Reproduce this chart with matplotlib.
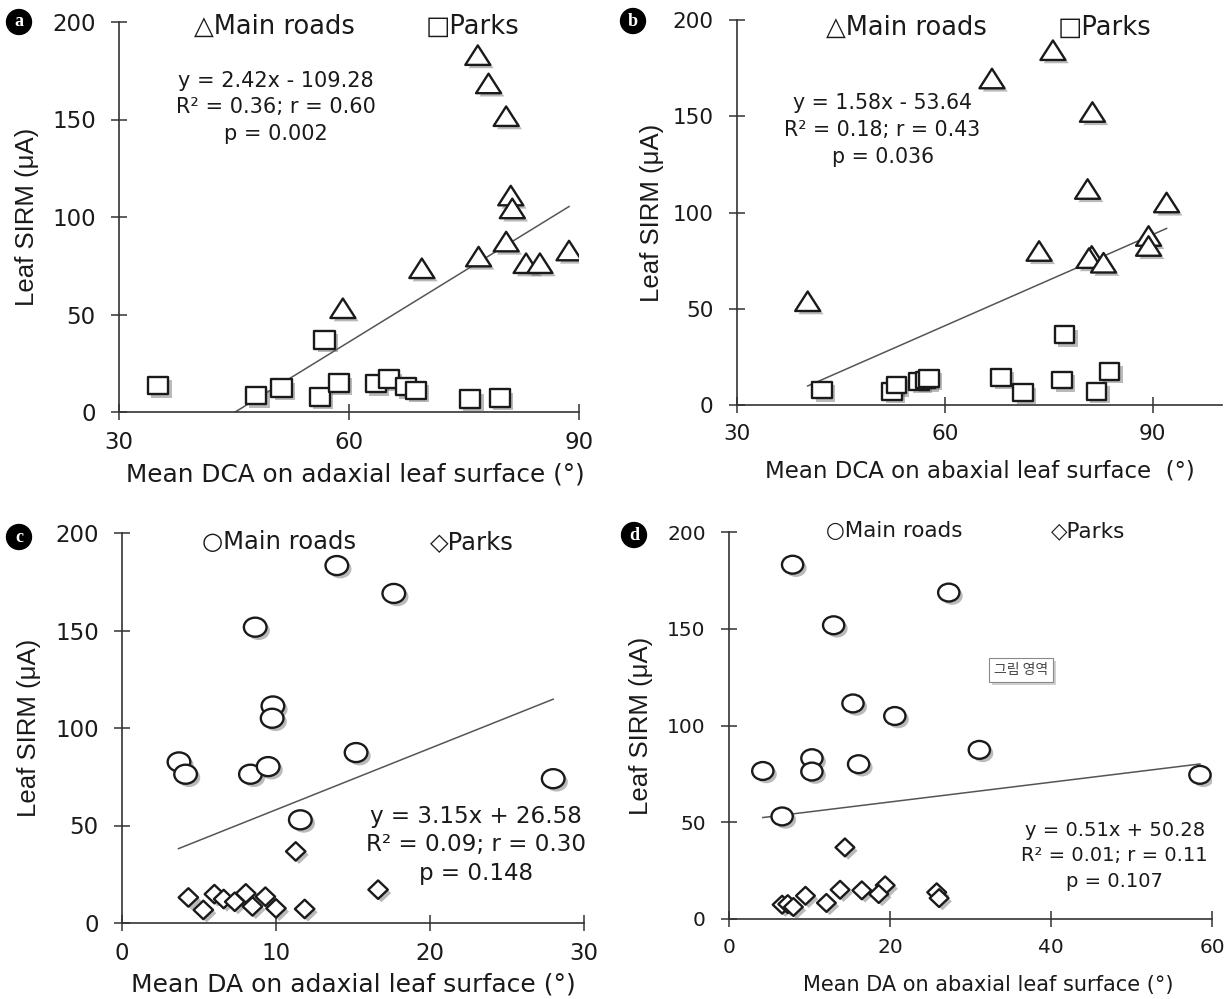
import matplotlib
matplotlib.use("Agg")
import matplotlib.pyplot as plt
import matplotlib.patheffects as pe
from matplotlib.path import Path
from matplotlib.transforms import Affine2D
import numpy as np

plt.rcParams['font.family'] = ['DejaVu Sans']

# ---------------- data ----------------
# panel a: mean DCA adaxial
a_road_x = [76.8, 78.2, 80.5, 81.1, 81.3, 80.5, 76.9, 83.1, 84.9, 88.7, 69.5, 59.2]
a_road_y = [183, 168.5, 151.7, 111, 104.4, 87.4, 79.7, 76.3, 76.3, 82.8, 73.7, 53.2]
a_park_x = [35.1, 47.9, 51.2, 56.8, 56.2, 58.7, 63.5, 65.2, 67.4, 68.7, 75.8, 79.7]
a_park_y = [13.5, 8.4, 12.3, 37, 7.7, 14.8, 14.5, 16.9, 13.1, 11.1, 6.7, 7.2]
# panel b: mean DCA abaxial
b_road_x = [40.2, 66.8, 75.6, 81.3, 80.6, 92.0, 89.4, 89.4, 73.6, 81.2, 80.8, 82.9]
b_road_y = [53.9, 169.6, 184.3, 152.2, 112.2, 105.2, 87.8, 82.6, 80, 77.4, 76.3, 73.9]
b_park_x = [42.3, 52.4, 53.0, 56.3, 57.2, 57.7, 68.1, 71.3, 77.3, 76.9, 81.9, 83.8]
b_park_y = [7.8, 7, 10.4, 12.2, 13, 13.9, 14.4, 6.4, 36.5, 13, 7, 17.4]
# panel c: mean DA adaxial
c_road_x = [13.95, 17.65, 8.65, 9.8, 9.75, 15.2, 3.7, 4.13, 8.34, 9.49, 28.0, 11.58]
c_road_y = [183.3, 169, 151.7, 111.3, 105, 87.4, 82.6, 76.3, 76.3, 80.2, 74, 52.9]
c_park_x = [11.28, 16.63, 4.31, 5.28, 6.0, 6.6, 7.32, 8.04, 8.47, 9.31, 10.0, 11.86]
c_park_y = [36.7, 17.1, 13.1, 6.7, 14.8, 12.3, 10.9, 15.2, 8.5, 13.5, 7.5, 7.2]
# panel d: mean DA abaxial
d_road_x = [7.9, 27.3, 13.0, 15.4, 20.6, 31.1, 10.3, 10.3, 4.2, 16.1, 58.5, 6.6]
d_road_y = [183.1, 168.7, 151.8, 111.4, 104.9, 87.4, 83.1, 76.2, 76.5, 80, 74.5, 53]
d_park_x = [14.4, 19.4, 16.5, 13.8, 9.5, 12.1, 18.6, 25.8, 26.1, 6.6, 7.3, 8.0]
d_park_y = [37, 17.4, 14.8, 15.1, 12, 8.3, 12.9, 13.8, 10.8, 7.4, 7.7, 6.2]

# regression coefficients (slope, intercept) and x-range of the trend line
fits = {
    'a': (2.42, -109.28, 35.1, 88.7),
    'b': (1.58, -53.64, 40.2, 92.0),
    'c': (3.15, 26.58, 3.67, 28.0),
    'd': (0.51, 50.28, 4.2, 58.5),
}
eq_texts = {
    'a': "y = 2.42x - 109.28\nR² = 0.36; r = 0.60\np = 0.002",
    'b': "y = 1.58x - 53.64\nR² = 0.18; r = 0.43\np = 0.036",
    'c': "y = 3.15x + 26.58\nR² = 0.09; r = 0.30\np = 0.148",
    'd': "y = 0.51x + 50.28\nR² = 0.01; r = 0.11\np = 0.107",
}
xlabels = {
    'a': "Mean DCA on adaxial leaf surface (°)",
    'b': "Mean DCA on abaxial leaf surface  (°)",
    'c': "Mean DA on adaxial leaf surface (°)",
    'd': "Mean DA on abaxial leaf surface (°)",
}
xlims = {'a': (30, 90), 'b': (30, 100), 'c': (0, 30), 'd': (0, 60)}
xticks = {'a': [30, 60, 90], 'b': [30, 60, 90], 'c': [0, 10, 20, 30], 'd': [0, 20, 40, 60]}
yticks = [0, 50, 100, 150, 200]
ylabel = "Leaf SIRM (μA)"
legend_road = {'a': "△Main roads", 'b': "△Main roads", 'c': "○Main roads", 'd': "○Main roads"}
legend_park = {'a': "□Parks", 'b': "□Parks", 'c': "◇Parks", 'd': "◇Parks"}

# ---------------- layout / style ----------------
W, H = 1231, 999
fig = plt.figure(figsize=(W / 100, H / 100), dpi=100)

def frac(x0, x1, ytop, ybot):
    return [x0 / W, 1 - ybot / H, (x1 - x0) / W, (ybot - ytop) / H]

axes = {
    'a': fig.add_axes(frac(119, 579, 22, 412)),
    'b': fig.add_axes(frac(737, 1222, 20, 405)),
    'c': fig.add_axes(frac(122, 584, 533, 923)),
    'd': fig.add_axes(frac(729, 1212, 532, 919)),
}

# slightly widened marker shapes (the source image is stretched horizontally)
def closed(verts):
    verts = list(verts) + [verts[0]]
    codes = [Path.MOVETO] + [Path.LINETO] * (len(verts) - 2) + [Path.CLOSEPOLY]
    return Path(verts, codes)

TRI = closed([(0, 0.78), (-1, -0.78), (1, -0.78)])
SQR = closed([(-1, -0.87), (1, -0.87), (1, 0.87), (-1, 0.87)])
DIA = closed([(0, 0.95), (-1, 0), (0, -0.95), (1, 0)])
ELL = Path.unit_circle().transformed(Affine2D().scale(1.0, 0.84))

data = {
    'a': (a_road_x, a_road_y, a_park_x, a_park_y, TRI, SQR),
    'b': (b_road_x, b_road_y, b_park_x, b_park_y, TRI, SQR),
    'c': (c_road_x, c_road_y, c_park_x, c_park_y, ELL, DIA),
    'd': (d_road_x, d_road_y, d_park_x, d_park_y, ELL, DIA),
}
msizes = {'a': (18, 14.5), 'b': (18, 14), 'c': (16.3, 14), 'd': (15.3, 13.5)}

leg_pos = {
    'a': ((39.8, 197.4), (70.0, 197.4)),
    'b': ((42.8, 195.8), (76.3, 195.8)),
    'c': ((5.2, 195.4), (20.0, 195.4)),
    'd': ((12.0, 200.5), (40.0, 200.5)),
}
leg_fs = {'a': 18.5, 'b': 18.5, 'c': 17.5, 'd': 15.5}
eq_pos = {'a': (50.5, 156.2), 'b': (51.0, 142.9), 'c': (23.0, 40.0), 'd': (47.9, 32.6)}
eq_fs = {'a': 15, 'b': 14.8, 'c': 16.6, 'd': 14}
eq_ls = {'a': 1.4, 'b': 1.45, 'c': 1.3, 'd': 1.45}
tick_fs = {'a': 16.5, 'b': 15.5, 'c': 16.5, 'd': 14.5}
xl_fs = {'a': 17.8, 'b': 16.5, 'c': 18, 'd': 15}
xl_pad = {'a': 6, 'b': 11, 'c': 5, 'd': 13}
xl_x = {'a': 0.513, 'b': 0.5, 'c': 0.5, 'd': 0.536}
yl_pad = {'a': 9, 'b': 6, 'c': 10, 'd': 10}

shadow = [pe.SimplePatchShadow(offset=(2.4, -2.4), shadow_rgbFace='#666666', alpha=0.45), pe.Normal()]
ink = '#1a1a1a'

for key, ax in axes.items():
    rx, ry, px, py, mr, mp = data[key]
    msr, msp = msizes[key]
    ax.plot(rx, ry, linestyle='none', marker=mr, ms=msr, mfc='white', mec=ink, mew=1.7,
            path_effects=shadow, zorder=3)
    ax.plot(px, py, linestyle='none', marker=mp, ms=msp, mfc='white', mec=ink, mew=1.7,
            path_effects=shadow, zorder=3)
    k, b0, x0, x1 = fits[key]
    xs = np.array([x0, x1])
    ax.plot(xs, k * xs + b0, color='#555555', lw=1.1, zorder=2)

    ax.set_xlim(*xlims[key])
    ax.set_ylim(0, 200)
    ax.set_xticks(xticks[key])
    ax.set_yticks(yticks)
    for s in ['top', 'right']:
        ax.spines[s].set_visible(False)
    for s in ['left', 'bottom']:
        ax.spines[s].set_color('#333333')
        ax.spines[s].set_linewidth(1.2)
    ax.tick_params(direction='inout', length=11.5, width=1.1, color='#333333',
                   labelsize=tick_fs[key], labelcolor=ink)
    ax.tick_params(axis='y', pad=11)
    ax.tick_params(axis='x', pad=8)
    ax.set_xlabel(xlabels[key], fontsize=xl_fs[key], color=ink, labelpad=xl_pad[key],
                  x=xl_x[key])
    ax.set_ylabel(ylabel, fontsize=18.5, color=ink, labelpad=yl_pad[key],
                  family=['Liberation Sans', 'DejaVu Sans'])

    (lx1, ly1), (lx2, ly2) = leg_pos[key]
    ax.text(lx1, ly1, legend_road[key], fontsize=leg_fs[key], color=ink, ha='left',
            va='center', clip_on=False)
    ax.text(lx2, ly2, legend_park[key], fontsize=leg_fs[key], color=ink, ha='left',
            va='center', clip_on=False)
    ex, ey = eq_pos[key]
    ax.text(ex, ey, eq_texts[key], fontsize=eq_fs[key], color=ink, ha='center', va='center',
            linespacing=eq_ls[key])

# panel letters
for lab, (px_, py_) in {'a': (19, 22), 'b': (633, 21), 'c': (19, 537), 'd': (634, 535)}.items():
    fig.text(px_ / W, 1 - py_ / H, lab, ha='center', va='center', color='white',
             fontsize=13, fontweight='bold', family=['Liberation Serif', 'DejaVu Serif'],
             bbox=dict(boxstyle='circle,pad=0.22', fc='black', ec='black'))

# stray Korean drawing-area tooltip in panel d
tip = axes['d'].text(36.3, 128.7, "그림 영역", fontsize=10, color='#444444', ha='center',
                     va='center', family=['Noto Sans CJK KR', 'DejaVu Sans'],
                     bbox=dict(boxstyle='square,pad=0.35', fc='white', ec='#8a8a8a', lw=0.8))
tip.get_bbox_patch().set_path_effects(
    [pe.SimplePatchShadow(offset=(2, -2), shadow_rgbFace='#888888', alpha=0.4), pe.Normal()])

fig.savefig('out.png', dpi=100)
